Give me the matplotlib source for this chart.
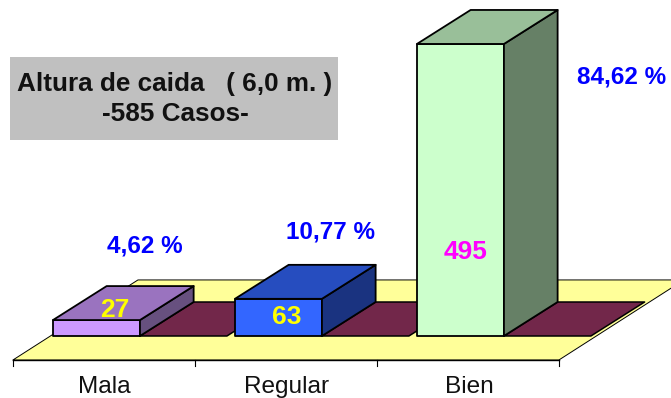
import matplotlib
matplotlib.use("Agg")
import matplotlib.pyplot as plt
from matplotlib.patches import Polygon, Rectangle

plt.rcParams['font.family'] = ['Liberation Sans', 'DejaVu Sans']

categorias = ['Mala', 'Regular', 'Bien']
casos = [27, 63, 495]
porcentajes = ['4,62 %', '10,77 %', '84,62 %']

colores_frente = ['#CC99FF', '#3366FF', '#CCFFCC']
colores_arriba = ['#9A73BF', '#264DBF', '#99BF99']
colores_lado = ['#67507F', '#1A3380', '#668066']
colores_valor = ['#FFFF00', '#FFFF00', '#FF00FF']

ancho = 0.478
dx = 0.295
dy = 57.6


def poligono(ax, pts, color, lw=1.3, zorder=2):
    ax.add_patch(Polygon(pts, closed=True, facecolor=color, edgecolor='black',
                         linewidth=lw, joinstyle='round', zorder=zorder))


def barra(ax, x, valor, i):
    x0 = x - ancho / 2
    x1 = x + ancho / 2
    poligono(ax, [(x0, 0), (x1, 0), (x1, valor), (x0, valor)], colores_frente[i], zorder=4)
    poligono(ax, [(x1, 0), (x1 + dx, dy), (x1 + dx, valor + dy), (x1, valor)], colores_lado[i], zorder=4)
    poligono(ax, [(x0, valor), (x1, valor), (x1 + dx, valor + dy), (x0 + dx, valor + dy)], colores_arriba[i], zorder=4)


fig = plt.figure(figsize=(6.71, 3.98), dpi=100)
ax = fig.add_axes([0, 0, 1, 1])
ax.set_xlim(-0.530, 3.157)
ax.set_ylim(-105.1, 569.5)
ax.axis('off')

# piso amarillo
piso_x0 = -0.459
piso_x1 = 2.541
piso_y0 = -40.7
piso_y1 = 95
piso_dx = 0.687
poligono(ax, [(piso_x0, piso_y0), (piso_x1, piso_y0), (piso_x1 + piso_dx, piso_y1), (piso_x0 + piso_dx, piso_y1)],
         '#FFFF99', lw=0.7, zorder=1)

# sombra granate detras de cada barra
for i in range(3):
    x1 = i + ancho / 2
    poligono(ax, [(x1, 0), (x1 + ancho, 0), (x1 + ancho + dx, dy), (x1 + dx, dy)], '#72274A', lw=1.1, zorder=2)

for i in range(3):
    barra(ax, i, casos[i], i)

# eje x
ax.plot([piso_x0, piso_x1], [piso_y0, piso_y0], color='black', lw=1.0, zorder=3)
for i in range(4):
    ax.plot([piso_x0 + i, piso_x0 + i], [piso_y0, piso_y0 - 10], color='black', lw=0.8, zorder=3)

pos_cat = [0.041, 0.046, 0.05]
for i, cat in enumerate(categorias):
    ax.text(i + pos_cat[i], -86, cat, ha='center', va='center', fontsize=17.6, color='#111111')

# valores
pos_valor = [(0.10, 44), (0.045, 32), (0.03, 142)]
for i in range(3):
    ax.text(i + pos_valor[i][0], pos_valor[i][1], str(casos[i]), ha='center', va='center',
            fontsize=19, fontweight='bold', color=colores_valor[i], zorder=6)

# porcentajes
pos_pct = [(0.265, 152), (0.285, 177), (0.885, 439)]
for i in range(3):
    ax.text(i + pos_pct[i][0], pos_pct[i][1], porcentajes[i], ha='center', va='center',
            fontsize=17.5, fontweight='bold', color='#0000FF', zorder=6)

# recuadro titulo
ax.add_patch(Rectangle((10 / 671, 1 - 140 / 398), 328 / 671, 83 / 398, transform=ax.transAxes,
                       facecolor='#C0C0C0', edgecolor='none', zorder=5))
ax.text(175 / 671, 1 - 84 / 398, 'Altura de caida   ( 6,0 m. )', transform=ax.transAxes, ha='center', va='center',
        fontsize=18.8, fontweight='bold', color='#111111', zorder=6)
ax.text(175 / 671, 1 - 114 / 398, '-585 Casos-', transform=ax.transAxes, ha='center', va='center',
        fontsize=18.8, fontweight='bold', color='#111111', zorder=6)

fig.savefig('out.png', dpi=100)
